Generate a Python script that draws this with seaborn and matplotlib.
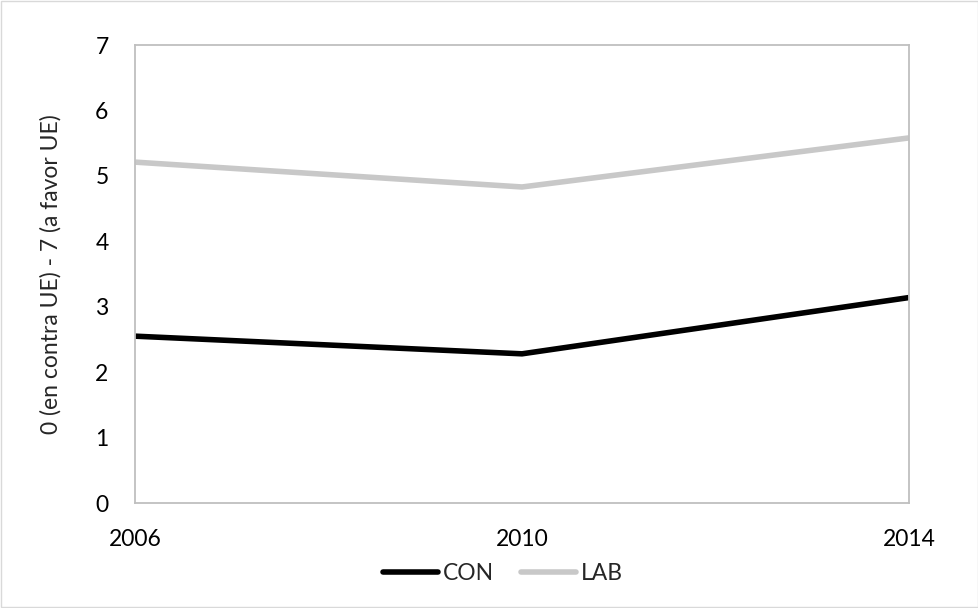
import seaborn as sns
import matplotlib.pyplot as plt
import pandas as pd

years = [2006, 2010, 2014]
con = [2.55, 2.28, 3.14]
lab = [5.21, 4.83, 5.58]
parties = ['CON', 'LAB']

sns.set_style("white")
plt.rcParams['font.family'] = ['Lato', 'DejaVu Sans']

df = pd.DataFrame({'year': years * 2,
                   'value': con + lab,
                   'party': ['CON'] * 3 + ['LAB'] * 3})

fig = plt.figure(figsize=(9.79, 6.08), dpi=100)
ax = fig.add_axes([135 / 979, 1 - 503 / 608, (909 - 135) / 979, (503 - 45) / 608])
sns.lineplot(data=df, x='year', y='value', hue='party', hue_order=parties,
             palette={'CON': '#000000', 'LAB': '#c8c8c8'}, linewidth=4,
             ax=ax, legend=True)
for l in ax.lines:
    l.set_solid_capstyle('butt')

ax.set_xlim(2006, 2014)
ax.set_ylim(0, 7)
ax.set_xticks(years)
ax.set_yticks(range(0, 8))
ax.tick_params(axis='both', labelsize=16.5, length=0, colors='#000000')
ax.tick_params(axis='x', pad=19)
ax.tick_params(axis='y', pad=19)
for s in ax.spines.values():
    s.set_color('#bfbfbf')
    s.set_linewidth(1.3)
ax.set_xlabel('')
ax.set_ylabel('0 (en contra UE) - 7 (a favor UE)', fontsize=16.5, labelpad=24)

handles, labels = ax.get_legend_handles_labels()
for h in handles:
    h.set_solid_capstyle('round')
ax.legend(handles, labels, loc='center', bbox_to_anchor=(503 / 979, 1 - 574 / 608),
          bbox_transform=fig.transFigure, ncol=2, frameon=False, fontsize=16.5,
          handlelength=2.4, handletextpad=0.2, columnspacing=1.2)

fig.patches.append(plt.Rectangle((0.001, 0.001), 0.998, 0.997, transform=fig.transFigure,
                                 fill=False, edgecolor='#d9d9d9', linewidth=1))
fig.savefig('out.png', dpi=100)
